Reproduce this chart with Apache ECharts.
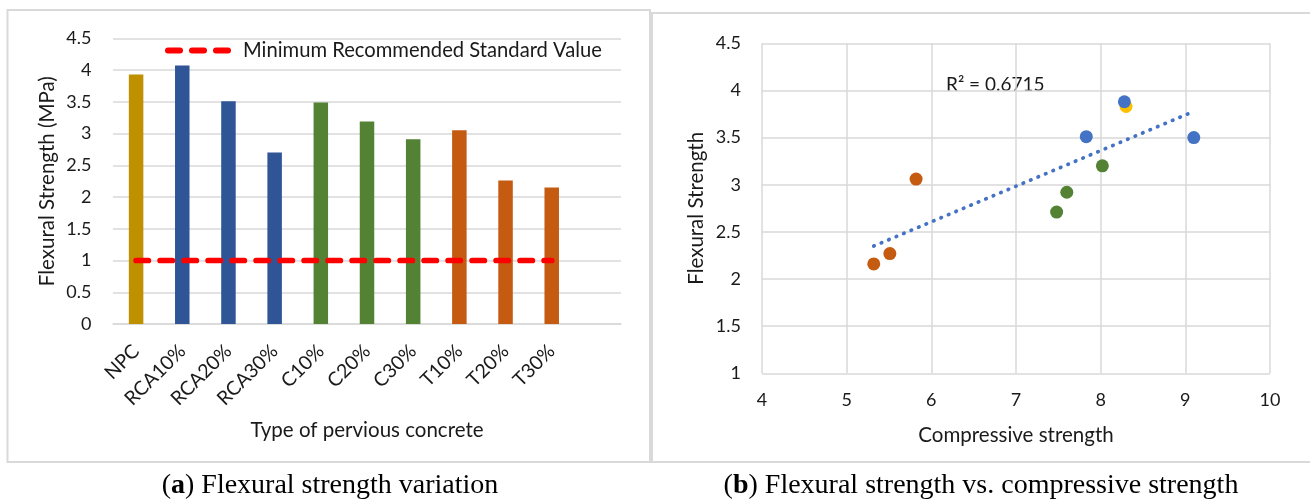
<!DOCTYPE html>
<html><head><meta charset="utf-8">
<script src="https://cdn.jsdelivr.net/npm/echarts/dist/echarts.min.js"></script>
<style>html,body{margin:0;padding:0;background:#fff}#c{width:1310px;height:499px}</style>
</head><body><div id="c"></div>
<script>
// ---- data ----
const categories = ['NPC','RCA10%','RCA20%','RCA30%','C10%','C20%','C30%','T10%','T20%','T30%'];
const barGroup   = ['NPC','RCA','RCA','RCA','C','C','C','T','T','T'];
const flexural   = [3.93, 4.07, 3.51, 2.70, 3.49, 3.19, 2.91, 3.05, 2.26, 2.15];
const minStandard = [1, 1, 1, 1, 1, 1, 1, 1, 1, 1];
const npcPoints = [[8.30, 3.83]];
const rcaPoints = [[7.83, 3.51], [8.28, 3.88], [9.10, 3.50]];
const cPoints   = [[7.48, 2.71], [7.60, 2.92], [8.02, 3.20]];
const tPoints   = [[5.32, 2.16], [5.51, 2.27], [5.82, 3.06]];
const trendLine = [[5.32, 2.35], [9.08, 3.77]];
const r2Label = 'R² = 0.6715';
const legendName = 'Minimum Recommended Standard Value';

// ---- styles ----
const FONT = 'Lato';
const TXT = '#1a1a1a';
const GRID = '#D9D9D9';
const groupColor = { NPC: '#BF9000', RCA: '#2F5597', C: '#548235', T: '#C55A11' };

const chart = echarts.init(document.getElementById('c'), null, { renderer: 'canvas' });

const tickLabel = { fontFamily: FONT, fontSize: 18, color: TXT };
const nameStyle = { fontFamily: FONT, fontSize: 20.5, color: TXT };

const option = {
  animation: false,
  backgroundColor: '#fff',
  textStyle: { fontFamily: FONT },
  grid: [
    { left: 113, top: 38.3, width: 508, height: 285.7, containLabel: false, outerBoundsMode: 'none' },
    { left: 762, top: 43.3, width: 508, height: 330, containLabel: false, outerBoundsMode: 'none' }
  ],
  legend: {
    data: [legendName],
    left: 165, top: 39.5, padding: 0,
    itemWidth: 66, itemHeight: 6,
    icon: 'path://M3,0H15A3,3 0 0 1 15,6H3A3,3 0 0 1 3,0Z M27,0H39A3,3 0 0 1 39,6H27A3,3 0 0 1 27,0Z M51,0H63A3,3 0 0 1 63,6H51A3,3 0 0 1 51,0Z',
    textStyle: { fontFamily: FONT, fontSize: 20.2, color: TXT, lineHeight: 22, padding: [0, 0, 0, 7] },
    selectedMode: false
  },
  xAxis: [
    {
      gridIndex: 0, type: 'category', data: categories.concat(['']), boundaryGap: true,
      axisLine: { show: true, lineStyle: { color: GRID, width: 1.5 } },
      axisTick: { show: false },
      axisLabel: Object.assign({}, tickLabel, { rotate: 45, interval: 0, margin: 24, fontSize: 19.5 }),
      splitLine: { show: false },
      name: 'Type of pervious concrete', nameLocation: 'middle', nameGap: 96,
      nameTextStyle: nameStyle, nameMoveOverlap: false
    },
    {
      gridIndex: 1, type: 'value', min: 4, max: 10, interval: 1,
      axisLine: { show: false }, axisTick: { show: false },
      axisLabel: Object.assign({ margin: 18 }, tickLabel),
      splitLine: { show: true, lineStyle: { color: GRID, width: 1.5 } },
      name: 'Compressive strength', nameLocation: 'middle', nameGap: 51.5,
      nameTextStyle: nameStyle, nameMoveOverlap: false
    }
  ],
  yAxis: [
    {
      gridIndex: 0, type: 'value', min: 0, max: 4.5, interval: 0.5,
      axisLine: { show: false }, axisTick: { show: false },
      axisLabel: Object.assign({ margin: 21.5 }, tickLabel),
      splitLine: { show: true, lineStyle: { color: GRID, width: 1.5 } },
      name: 'Flexural Strength (MPa)', nameLocation: 'middle', nameGap: 55,
      nameTextStyle: nameStyle, nameMoveOverlap: false
    },
    {
      gridIndex: 1, type: 'value', min: 1, max: 4.5, interval: 0.5,
      axisLine: { show: false }, axisTick: { show: false },
      axisLabel: Object.assign({ margin: 21 }, tickLabel),
      splitLine: { show: true, lineStyle: { color: GRID, width: 1.5 } },
      name: 'Flexural Strength', nameLocation: 'middle', nameGap: 55.5,
      nameTextStyle: nameStyle, nameMoveOverlap: false
    }
  ],
  series: [
    {
      type: 'bar', xAxisIndex: 0, yAxisIndex: 0, barWidth: 14.5,
      data: flexural.map((v, i) => ({ value: v, itemStyle: { color: groupColor[barGroup[i]] } })),
      z: 2
    },
    {
      name: legendName, type: 'line', xAxisIndex: 0, yAxisIndex: 0,
      data: minStandard, symbol: 'none', color: '#FF0000',
      lineStyle: { color: '#FF0000', width: 5.7, type: [12.3, 11.7], cap: 'round' },
      z: 3
    },
    {
      type: 'line', xAxisIndex: 1, yAxisIndex: 1, data: trendLine, symbol: 'none',
      lineStyle: { color: '#4472C4', width: 3.7, type: [0.5, 7.6], cap: 'round' }, z: 2
    },
    { type: 'scatter', xAxisIndex: 1, yAxisIndex: 1, data: npcPoints, symbolSize: 13, itemStyle: { color: '#FFC000', opacity: 1 }, z: 3 },
    { type: 'scatter', xAxisIndex: 1, yAxisIndex: 1, data: rcaPoints, symbolSize: 13, itemStyle: { color: '#4472C4', opacity: 1 }, z: 4 },
    { type: 'scatter', xAxisIndex: 1, yAxisIndex: 1, data: cPoints, symbolSize: 13, itemStyle: { color: '#548235', opacity: 1 }, z: 4 },
    { type: 'scatter', xAxisIndex: 1, yAxisIndex: 1, data: tPoints, symbolSize: 13, itemStyle: { color: '#C55A11', opacity: 1 }, z: 4 }
  ],
  graphic: [
    { type: 'rect', shape: { x: 7.5, y: 10, width: 642.5, height: 452 }, style: { fill: 'none', stroke: GRID, lineWidth: 2 }, silent: true },
    { type: 'rect', shape: { x: 652, y: 13, width: 700, height: 449 }, style: { fill: 'none', stroke: GRID, lineWidth: 2 }, silent: true },
    { type: 'text', x: 946, y: 85, style: { text: r2Label, font: '19px Lato', fill: TXT, align: 'left', verticalAlign: 'middle' }, silent: true },
    { type: 'text', x: 330, y: 486, style: {
        text: '({b|a}) Flexural strength variation', font: '28px "Liberation Serif"', fill: '#000',
        align: 'center', verticalAlign: 'middle',
        rich: { b: { fontFamily: 'Liberation Serif', fontSize: 28, fontWeight: 'bold', fill: '#000' } } }, silent: true },
    { type: 'text', x: 981, y: 486, style: {
        text: '({b|b}) Flexural strength vs. compressive strength', font: '28px "Liberation Serif"', fill: '#000',
        align: 'center', verticalAlign: 'middle',
        rich: { b: { fontFamily: 'Liberation Serif', fontSize: 28, fontWeight: 'bold', fill: '#000' } } }, silent: true }
  ]
};
chart.setOption(option);
</script></body></html>
